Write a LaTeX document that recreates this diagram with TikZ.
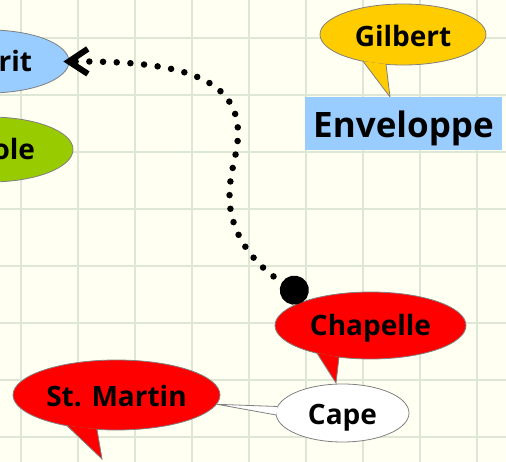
\documentclass[tikz,border=0pt]{standalone}
\usepackage{fontspec}
\setmainfont{Open Sans}
\usetikzlibrary{arrows.meta,shapes.geometric}
\definecolor{bg}{RGB}{255,255,242}
\definecolor{gridc}{RGB}{222,230,214}
\definecolor{lblue}{HTML}{99CCFF}
\definecolor{lgreen}{HTML}{99CC00}
\definecolor{gold}{HTML}{FFCC00}
\definecolor{outl}{HTML}{808080}
\begin{document}
\begin{tikzpicture}[x=1pt,y=-1pt,
  bubble/.style={ellipse, draw=outl, line width=0.8pt, inner sep=0pt,
    font={\fontsize{28}{30}\selectfont\bfseries}, text height=20pt, text depth=0pt},
  ptr/.style={draw=outl, line width=0.8pt, line join=miter},
  gridline/.style={gridc, line width=2pt},
  conn/.style={line width=6.5pt, line cap=round, dash pattern=on 0pt off 13.7pt,
    shorten >=-6pt, shorten <=3pt,
    {Circle[length=29pt,width=29pt]}-{Straight Barb[length=19pt,width=25pt,line width=6pt 0 0]}}]
\useasboundingbox (0,0) rectangle (506,462);
\clip (0,0) rectangle (506,462);
\fill[bg] (0,0) rectangle (506,462);
\foreach \i in {0,...,8} \draw[gridline] ({20.7+57*\i},0) -- ({20.7+57*\i},462);
\foreach \j in {0,...,7} \draw[gridline] (0,{37.7+57*\j}) -- (506,{37.7+57*\j});

% partially visible bubbles
\node[bubble, fill=lblue, minimum width=160pt, minimum height=63pt, text width=86pt, align=right] (esp) at (-11,61.5) {rit};
\node[bubble, fill=lgreen, minimum width=166pt, minimum height=65pt, text width=90pt, align=right] (ole) at (-10,149.5) {ole};

% Gilbert
\node[bubble, fill=gold, minimum width=166pt, minimum height=61pt, text height=25pt] (gil) at (403,34.5) {Gilbert};
\fill[gold] (390,97) -- (363,61.2) -- (386,64.3) -- cycle;
\draw[ptr] (363,61.2) -- (390,97) -- (386,64.3);

% Enveloppe
\node[fill=lblue, minimum width=197pt, minimum height=53pt, inner sep=0pt,
  font={\fontsize{35}{40}\selectfont\bfseries}, text height=29pt, text depth=0pt] (env) at (403.5,123.5) {Enveloppe};

% St. Martin
\node[bubble, fill=red, minimum width=207pt, minimum height=70pt, text height=22pt] (stm) at (116.5,395) {St. Martin};
\fill[red] (102,459) -- (67,425.7) -- (97,429.4) -- cycle;
\draw[ptr] (67,425.7) -- (102,459) -- (97,429.4);

% Cape
\node[bubble, fill=white, minimum width=133pt, minimum height=58pt, text height=22pt] (cape) at (342.5,413) {Cape};
\fill[white] (217,404.3) -- (277.7,406.5) -- (276.2,415) -- cycle;
\draw[ptr] (277.7,406.5) -- (217,404.3) -- (276.2,415);

% Chapelle
\node[bubble, fill=red, minimum width=191pt, minimum height=67pt] (chap) at (370.5,325.5) {Chapelle};
\fill[red] (336,383) -- (317,353.2) -- (339,357.1) -- cycle;
\draw[ptr] (317,353.2) -- (336,383) -- (339,357.1);

% connector
\draw[conn] (chap.157) .. controls (243,258) and (229,222) .. (229.5,196)
  .. controls (229.5,170) and (238,155) .. (238,133)
  .. controls (238,70) and (160,61) .. (esp.east);
\end{tikzpicture}
\end{document}
